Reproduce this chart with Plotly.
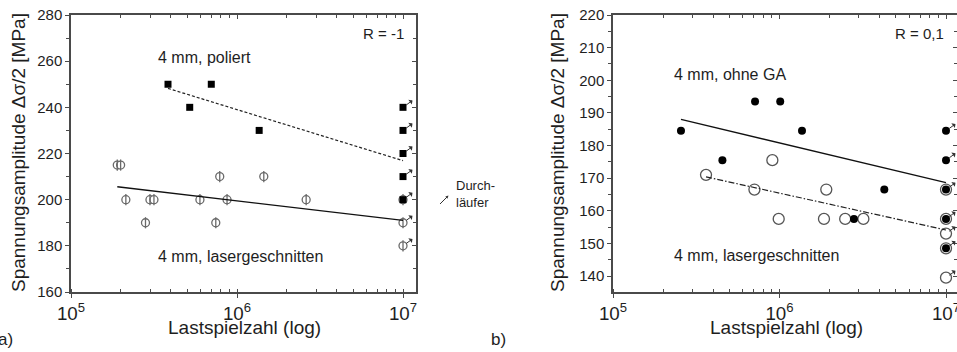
import numpy as np
import plotly.graph_objects as go

# ---------------- data: panel a) R = -1 ----------------
pol_N = [3.84e5, 5.19e5, 7.0e5, 1.36e6]
pol_S = [250, 240, 250, 230]
pol_run_S = [240, 230, 220, 210, 200]
las_a_N = [1.9e5, 1.99e5, 2.14e5, 2.81e5, 2.99e5, 3.16e5, 5.98e5, 7.45e5, 7.87e5, 8.71e5, 1.45e6, 2.61e6]
las_a_S = [215, 215, 200, 190, 200, 200, 200, 190, 210, 200, 210, 200]
las_a_run_S = [200, 190, 180]
fit_pol_N = [3.84e5, 1e7]
fit_pol_S = [248.2, 216.9]
fit_las_a_N = [1.9e5, 1e7]
fit_las_a_S = [205.6, 191.0]

# ---------------- data: panel b) R = 0,1 ----------------
oga_N = [2.56e5, 4.54e5, 7.13e5, 1.01e6, 1.365e6, 2.8e6, 4.26e6]
oga_S = [184.5, 175.5, 193.5, 193.5, 184.5, 157.5, 166.5]
oga_run_S = [184.5, 175.5, 166.5, 157.5, 148.5]
las_b_N = [3.62e5, 7.07e5, 9.06e5, 9.89e5, 1.91e6, 1.85e6, 2.48e6, 3.19e6]
las_b_S = [171, 166.5, 175.5, 157.5, 166.5, 157.5, 157.5, 157.5]
las_b_run_S = [166.5, 157.5, 153, 148.5, 139.5]
fit_oga_N = [2.56e5, 1e7]
fit_oga_S = [188.0, 168.6]
fit_las_b_N = [3.62e5, 1e7]
fit_las_b_S = [170.4, 154.1]

RUNOUT_N = 1e7

W, H = 957, 352
FONT = "Liberation Sans, Arial, sans-serif"
TXT = "#1e1e1e"
AX = "#4a4a4a"

fig = go.Figure()

def run_list(vals):
    return [RUNOUT_N] * len(vals)

# ---- panel a ----
gray = "#6a6a6a"
la_x = las_a_N + run_list(las_a_run_S)
la_y = las_a_S + las_a_run_S
fig.add_trace(go.Scatter(x=la_x, y=la_y, mode="markers", xaxis="x", yaxis="y",
                         marker=dict(symbol="circle", size=8, color="white",
                                     line=dict(color=gray, width=1.3)), showlegend=False))
fig.add_trace(go.Scatter(x=la_x, y=la_y, mode="markers", xaxis="x", yaxis="y",
                         marker=dict(symbol="line-ns", size=8, color=gray,
                                     line=dict(color=gray, width=1.3)), showlegend=False))
fig.add_trace(go.Scatter(x=pol_N + run_list(pol_run_S), y=pol_S + pol_run_S, mode="markers",
                         xaxis="x", yaxis="y",
                         marker=dict(symbol="square", size=7, color="black"), showlegend=False))
fig.add_trace(go.Scatter(x=fit_pol_N, y=fit_pol_S, mode="lines", xaxis="x", yaxis="y",
                         line=dict(color="#222", width=1.2, dash="3px,2px"), showlegend=False))
fig.add_trace(go.Scatter(x=fit_las_a_N, y=fit_las_a_S, mode="lines", xaxis="x", yaxis="y",
                         line=dict(color="#111", width=1.3), showlegend=False))

# ---- panel b ----
gray2 = "#555555"
fig.add_trace(go.Scatter(x=las_b_N + run_list(las_b_run_S), y=las_b_S + las_b_run_S, mode="markers",
                         xaxis="x2", yaxis="y2",
                         marker=dict(symbol="circle", size=11, color="white",
                                     line=dict(color=gray2, width=1.3)), showlegend=False))
fig.add_trace(go.Scatter(x=oga_N + run_list(oga_run_S), y=oga_S + oga_run_S, mode="markers",
                         xaxis="x2", yaxis="y2",
                         marker=dict(symbol="circle", size=8, color="black"), showlegend=False))
fig.add_trace(go.Scatter(x=fit_oga_N, y=fit_oga_S, mode="lines", xaxis="x2", yaxis="y2",
                         line=dict(color="#111", width=1.3), showlegend=False))
fig.add_trace(go.Scatter(x=fit_las_b_N, y=fit_las_b_S, mode="lines", xaxis="x2", yaxis="y2",
                         line=dict(color="#222", width=1.2, dash="6px,2px,1.5px,2px"), showlegend=False))

# empty traces so the mirror-tick axes get drawn
for xa, ya in [("x3", "y"), ("x", "y3"), ("x4", "y2"), ("x2", "y4")]:
    fig.add_trace(go.Scatter(x=[], y=[], xaxis=xa, yaxis=ya, showlegend=False, hoverinfo="skip"))

# ---- axes ----
def xax(domain, rng, anchor, mirror=True):
    return dict(type="log", domain=domain, range=rng, anchor=anchor, dtick=1, automargin=False,
                exponentformat="power", showexponent="all", ticklabeloverflow="allow",
                showgrid=False, zeroline=False, showline=True, linecolor=AX, linewidth=1.5,
                mirror=mirror, ticks="outside", ticklen=4, tickcolor=AX, tickwidth=1,
                minor=dict(ticks="inside", ticklen=3, tickcolor=AX, dtick="D1", showgrid=False),
                tickfont=dict(family=FONT, size=15, color=TXT))

def yax(domain, rng, anchor, dt, mdt, mirror=True):
    return dict(domain=domain, range=rng, anchor=anchor, dtick=dt, automargin=False,
                showgrid=False, zeroline=False, showline=True, linecolor=AX, linewidth=1.5,
                mirror=mirror, ticks="outside", ticklen=4, tickcolor=AX, tickwidth=1,
                minor=dict(ticks="outside", ticklen=3, tickcolor=AX, dtick=mdt, showgrid=False),
                tickfont=dict(family=FONT, size=15, color=TXT))

def xtop(over, rng, anchor):
    return dict(type="log", overlaying=over, side="top", range=rng, anchor=anchor, dtick=1,
                automargin=False, showticklabels=False, showgrid=False, zeroline=False,
                showline=False, ticks="inside", ticklen=4, tickcolor=AX,
                minor=dict(ticks="inside", ticklen=3, tickcolor=AX, dtick="D1", showgrid=False))

def yright(over, rng, anchor, dt, mdt):
    return dict(overlaying=over, side="right", range=rng, anchor=anchor, dtick=dt,
                automargin=False, showticklabels=False, showgrid=False, zeroline=False,
                showline=False, ticks="inside", ticklen=4, tickcolor=AX,
                minor=dict(ticks="inside", ticklen=3, tickcolor=AX, dtick=mdt, showgrid=False))

x1_dom = [71 / W, 416 / W]
x2_dom = [613 / W, 1.0]
x1_rng = [5, 7 + 13 / 166.0]
x2_rng = [5, 7 + (W - 946) / 166.5]
y1_rng = [160, 280]
y2_rng = [135.1, 220]

ann = []
def arrow(xv, yv, xr, yr):
    ann.append(dict(x=np.log10(xv), y=yv, xref=xr, yref=yr, text="", showarrow=True,
                    ax=11, ay=-8, arrowside="start", arrowhead=2, arrowsize=0.6,
                    arrowwidth=1, arrowcolor="#333", standoff=4))

for v in sorted(set(pol_run_S + las_a_run_S)):
    arrow(RUNOUT_N, v, "x", "y")
for v in sorted(set(oga_run_S + las_b_run_S)):
    arrow(RUNOUT_N, v, "x2", "y2")

def txt(x_px, y_px, s, size=16, xanchor="left", angle=0):
    ann.append(dict(x=x_px / W, y=(292 - y_px) / 277, xref="paper", yref="paper", text=s,
                    showarrow=False, xanchor=xanchor, yanchor="middle", textangle=angle,
                    font=dict(family=FONT, size=size, color=TXT), align="left"))

txt(156, 57, "4 mm, poliert")
txt(156, 256, "4 mm, lasergeschnitten")
txt(406, 33, "R = -1", size=15, xanchor="right")
txt(672, 74, "4 mm, ohne GA")
txt(672, 255, "4 mm, lasergeschnitten")
txt(946, 33, "R = 0,1", size=15, xanchor="right")
txt(454, 194, "Durch-<br>läufer", size=13)
ann.append(dict(x=448.5 / W, y=(292 - 195.5) / 277, xref="paper", yref="paper", text="",
                showarrow=True, ax=-10, ay=10, arrowhead=2, arrowsize=0.6, arrowwidth=1,
                arrowcolor="#333"))
txt(18, 153, "Spannungsamplitude Δσ/2 [MPa]", size=19, xanchor="center", angle=-90)
txt(557, 153, "Spannungsamplitude Δσ/2 [MPa]", size=19, xanchor="center", angle=-90)
txt(244, 327, "Lastspielzahl (log)", size=19, xanchor="center")
txt(786, 327, "Lastspielzahl (log)", size=19, xanchor="center")
txt(-4, 339, "a)", size=17)
txt(489, 339, "b)", size=17)

fig.update_layout(
    width=W, height=H,
    margin=dict(l=0, r=0, t=15, b=60),
    paper_bgcolor="white", plot_bgcolor="white",
    xaxis=xax(x1_dom, x1_rng, "y"),
    yaxis=yax([0, 1], y1_rng, "x", 20, 10),
    xaxis2=xax(x2_dom, x2_rng, "y2"),
    yaxis2=yax([0, 1], y2_rng, "x2", 10, 5, mirror=False),
    xaxis3=xtop("x", x1_rng, "y"),
    yaxis3=yright("y", y1_rng, "x", 20, 10),
    xaxis4=xtop("x2", x2_rng, "y2"),
    yaxis4=yright("y2", y2_rng, "x2", 10, 5),
    annotations=ann,
    showlegend=False,
)

fig.write_html("out.html", config={"displayModeBar": False},
               post_script="document.body.style.margin='0';document.body.style.overflow='hidden';")
